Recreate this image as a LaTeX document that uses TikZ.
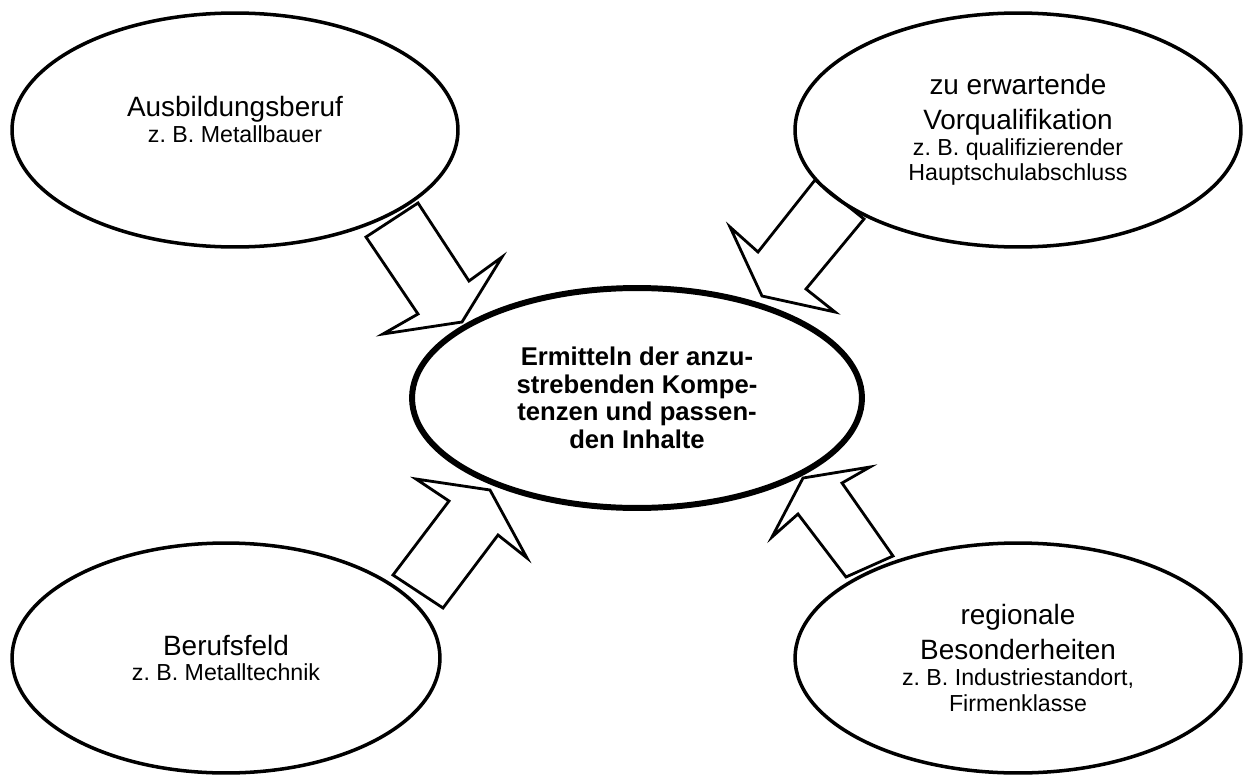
\documentclass[tikz,border=0pt]{standalone}
\usepackage{fontspec}
\setmainfont{Liberation Sans}
\usetikzlibrary{shapes.geometric}
\frenchspacing
\tikzset{
  field/.style={draw,ellipse,line width=2pt,minimum width=8.92cm,minimum height=4.68cm,
    align=center,font=\fontsize{15.9}{19.8}\selectfont},
  goal/.style={draw,ellipse,line width=3.4pt,minimum width=9cm,minimum height=4.4cm,
    align=center,font=\bfseries\fontsize{14.6}{15.7}\selectfont},
  blockarrow/.style={line width=1.6pt,line join=miter}
}
\newcommand{\bsp}[1]{{\fontsize{13.2}{14.7}\selectfont #1}}
\begin{document}
\begin{tikzpicture}[x=0.02cm,y=-0.02cm]
 \useasboundingbox (0,0) rectangle (1243,777);
 % the four sources
 \node[field] (beruf) at (235,130) {Ausbildungsberuf\\[-5.1pt]\bsp{z. B. Metallbauer}\\[-8pt]};
 \node[field] (vorq) at (1018,130) {zu erwartende\\Vorqualifikation\\[-5.1pt]\bsp{z. B. qualifizierender}\\[-5.1pt]\bsp{Hauptschulabschluss}};
 \node[field,minimum width=8.56cm,minimum height=4.6cm] (feld) at (226,658) {Berufsfeld\\[-5.1pt]\bsp{z. B. Metalltechnik}};
 \node[field,minimum height=4.6cm] (region) at (1018,658) {regionale\\Besonderheiten\\[-5.1pt]\bsp{z. B. Industriestandort,}\\[-5.1pt]\bsp{Firmenklasse}};
 % the goal in the middle
 \node[goal] (ziel) at (637,398) {Ermitteln der anzu-\\strebenden Kompe-\\tenzen und passen-\\den Inhalte};
 % block arrows towards the middle
 \draw[blockarrow] (418,203) -- (366,237) -- (418,314) -- (383,334) -- (462,322) -- (502,257) -- (469,281) -- cycle; % from beruf
 \draw[blockarrow] (815,180) -- (758,252) -- (730,227) -- (762,296) -- (835,312) -- (806,289) -- (864,219) -- cycle; % from vorq
 \draw[blockarrow] (393,575) -- (443,608) -- (498,535) -- (527,558) -- (490,490) -- (416,479) -- (449,501) -- cycle; % from feld
 \draw[blockarrow] (846,577) -- (893,556) -- (842,483) -- (870,467) -- (803,478) -- (772,537) -- (798,514) -- cycle; % from region
\end{tikzpicture}
\end{document}
